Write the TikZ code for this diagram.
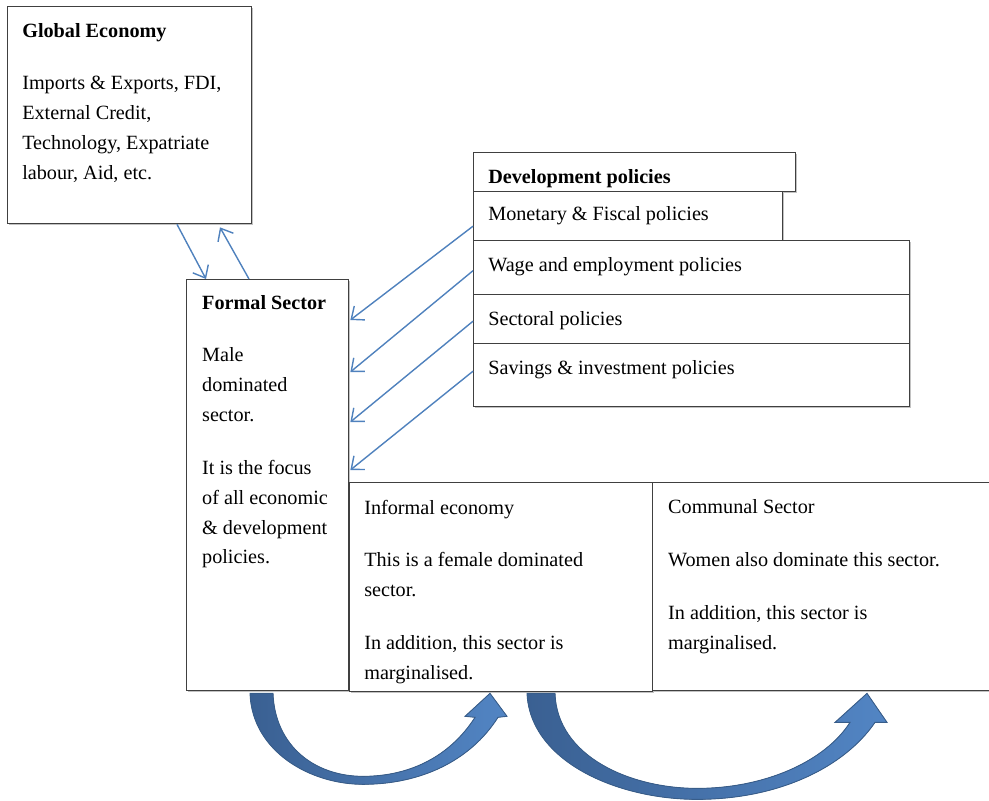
\documentclass[tikz,border=0pt]{standalone}
\usepackage{fontspec}
\setmainfont{Liberation Serif}
\usetikzlibrary{positioning,calc,arrows.meta,shadows}
\definecolor{linkblue}{HTML}{4F81BD}
\definecolor{benddark}{HTML}{3A6092}
\definecolor{bendlight}{HTML}{5285C4}
\definecolor{bendline}{HTML}{385D8A}
\definecolor{boxline}{HTML}{404040}

\tikzset{
  box/.style={draw=boxline, line width=0.8pt, fill=white, anchor=north west, inner sep=0pt,
    drop shadow={shadow xshift=0.8pt, shadow yshift=-0.8pt, fill=black!40, opacity=0.6}},
  txt/.style={anchor=north west, align=left, inner sep=0pt, font=\fontsize{11.5}{17}\selectfont},
  link/.style={draw=linkblue, line width=0.8pt, -{Straight Barb[length=6pt,width=10pt]}},
  turnarrow/.style={draw=bendline, line width=0.5pt, left color=benddark, right color=bendlight},
}

\begin{document}
\begin{tikzpicture}[x=0.02cm, y=-0.02cm]
  \useasboundingbox (0,0) rectangle (989,800);
  \clip (0,0) rectangle (989,800);

  % Global economy and formal sector
  \node[box, minimum width=4.88cm, minimum height=4.34cm] (glob) at (7,6) {};
  \node[txt, below right=9.6pt and 8.5pt of glob.north west] (globtxt)
    {\textbf{Global Economy}\\[13pt] Imports \& Exports, FDI,\\ External Credit,\\ Technology, Expatriate\\ labour, Aid, etc.};

  \node[box, minimum width=3.24cm, minimum height=8.22cm] (formal) at (186,279) {};
  \node[txt, below right=9pt and 9pt of formal.north west] (formaltxt)
    {\textbf{Formal Sector}\\[13pt] Male\\ dominated\\ sector.\\[13pt] It is the focus\\ of all economic\\ \& development\\ policies.};

  % Development policies
  \node[box, minimum width=6.44cm, minimum height=0.78cm] (devhead) at (473,152) {};
  \node[txt, below right=9.6pt and 8.5pt of devhead.north west] (devtxt) {\textbf{Development policies}};
  \node[box, minimum width=6.18cm, minimum height=0.98cm] (mon) at (473,191) {};
  \node[txt, below right=8.5pt and 8.5pt of mon.north west] (montxt) {Monetary \& Fiscal policies};
  \node[box, minimum width=8.72cm, minimum height=1.08cm] (wage) at (473,240) {};
  \node[txt, below right=9.6pt and 8.5pt of wage.north west] (wagetxt) {Wage and employment policies};
  \node[box, minimum width=8.72cm, minimum height=0.98cm] (sect) at (473,294) {};
  \node[txt, below right=9.6pt and 8.5pt of sect.north west] (secttxt) {Sectoral policies};
  \node[box, minimum width=8.72cm, minimum height=1.26cm] (sav) at (473,343) {};
  \node[txt, below right=10pt and 8.5pt of sav.north west] (savtxt) {Savings \& investment policies};

  % Informal and communal sectors
  \node[box, minimum width=6.06cm, minimum height=4.18cm] (inf) at (349,482) {};
  \node[txt, below right=10pt and 8.5pt of inf.north west] (inftxt)
    {Informal economy\\[13pt] This is a female dominated\\ sector.\\[13pt] In addition, this sector is\\ marginalised.};
  \node[box, minimum width=6.9cm, minimum height=4.16cm] (comm) at (652,482) {};
  \node[txt, below right=10pt and 9pt of comm.north west] (commtxt)
    {Communal Sector\\[13pt] Women also dominate this sector.\\[13pt] In addition, this sector is\\ marginalised.};

  % Links
  \draw[link] ($(glob.south west)+(170,0)$) -- ($(formal.north west)+(20,0)$);
  \draw[link] ($(formal.north west)+(63,0)$) -- ($(glob.south west)+(213,3)$);
  \foreach \p/\s/\dy in {mon/10/41, wage/3/93, sect/2/143, sav/-4/191}
    \draw[link] ($(\p.west)+(0,\s)$) -- ($(formal.north east)+(1,\dy)$);

  % Curved arrows
  \coordinate (bend1) at ($(formal.south west)+(64,2)$);
  \coordinate (bend2) at ($(inf.south west)+(178,1)$);
  \begin{scope}[shift={(bend1)}]
    \filldraw[turnarrow] (0,0) .. controls (2,58) and (60,91) .. (113,91)
      .. controls (170,91) and (220,68) .. (248,24)
      -- (257,23) -- (240,0) -- (215,23) -- (225,24)
      .. controls (200,63) and (160,83) .. (113,83)
      .. controls (65,83) and (25,53) .. (23,0) -- cycle;
  \end{scope}
  \begin{scope}[shift={(bend2)}]
    \filldraw[turnarrow] (0,0) .. controls (3,68) and (90,106) .. (170,106)
      .. controls (253,106) and (318,73) .. (348,29)
      -- (360,29) -- (340,0) -- (308,29) -- (323,29)
      .. controls (298,68) and (238,95) .. (170,95)
      .. controls (103,95) and (30,63) .. (28,0) -- cycle;
  \end{scope}
\end{tikzpicture}
\end{document}
